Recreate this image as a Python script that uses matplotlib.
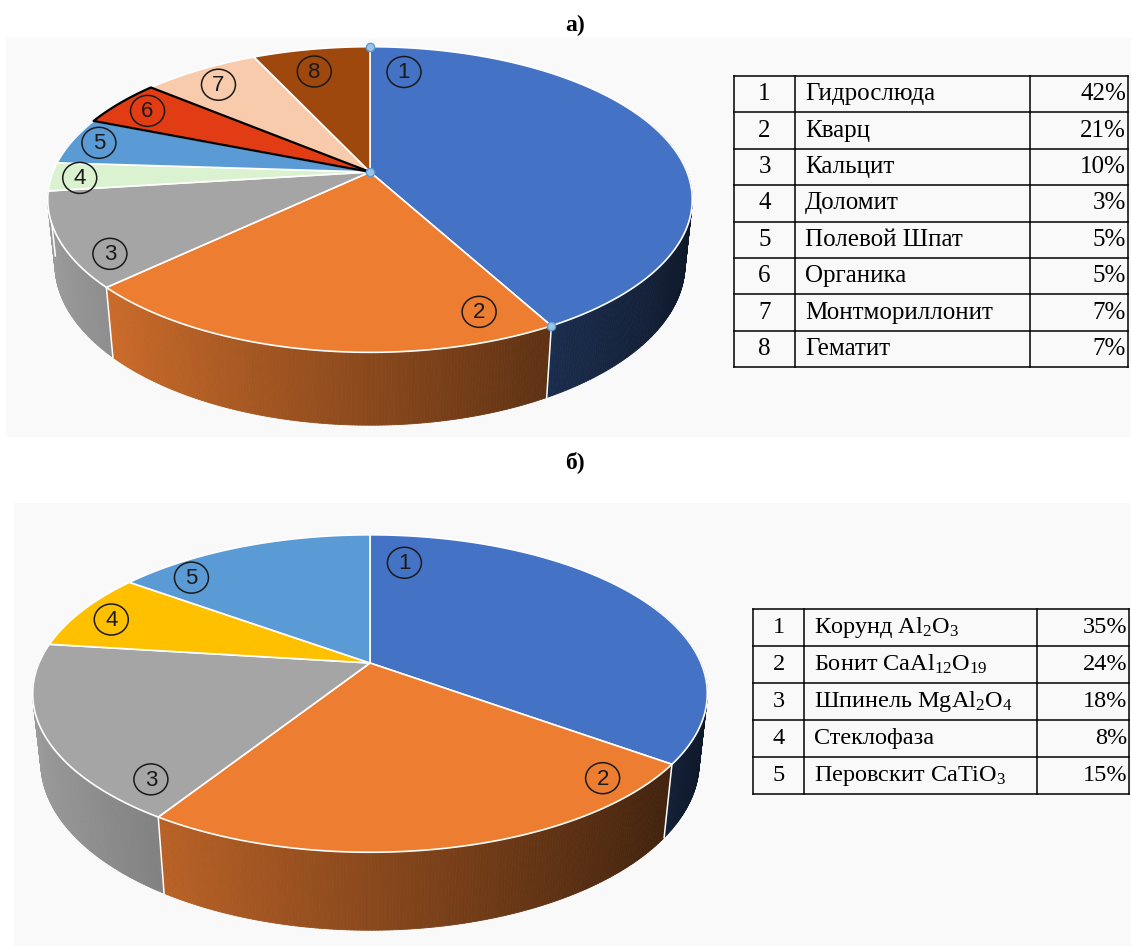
"""Two 3D-style pie charts with legend tables (phase composition)."""
import numpy as np
import matplotlib
matplotlib.use("Agg")
import matplotlib.pyplot as plt
from matplotlib.colors import to_rgb
from matplotlib.patches import Polygon, Rectangle, Ellipse
from matplotlib.collections import PolyCollection

plt.rcParams['mathtext.fontset'] = 'custom'
plt.rcParams['mathtext.rm'] = 'Liberation Serif'
plt.rcParams['mathtext.it'] = 'Liberation Serif:italic'

# --- data -------------------------------------------------------------
names_a = ["Гидрослюда", "Кварц", "Кальцит", "Доломит", "Полевой Шпат",
           "Органика", "Монтмориллонит", "Гематит"]
values_a = [42, 21, 10, 3, 5, 5, 7, 7]
colors_a = ["#4472C4", "#ED7D31", "#A5A5A5", "#DAF2D0", "#5B9BD5",
            "#E23C14", "#F8CBAD", "#9E480E"]

names_b = ["Корунд Al$_2$O$_3$", "Бонит CaAl$_{12}$O$_{19}$",
           "Шпинель MgAl$_2$O$_4$", "Стеклофаза", "Перовскит CaTiO$_3$"]
values_b = [35, 24, 18, 8, 15]
colors_b = ["#4472C4", "#ED7D31", "#A5A5A5", "#FFC000", "#5B9BD5"]

# label placement on the pie plane: (angle clockwise from top, radius)
labels_at_a = [(9, 0.78), (160, 0.86), (236, 0.90), (267.5, 0.91),
               (283, 0.91), (300.5, 0.88), (321, 0.85), (345.5, 0.80)]
labels_at_b = [(9, 0.76), (137, 0.90), (221, 0.88), (290, 0.88), (316, 0.87)]


def make_proj(cx, cy, s, tilt, dist):
    st, ct = np.sin(np.radians(tilt)), np.cos(np.radians(tilt))

    def proj(X, Y, Z=0.0):
        vert = Y * st - Z * ct
        depth = dist - Y * ct - Z * st
        k = dist / depth
        return cx + s * X * k, cy + s * vert * k
    return proj


def draw_pie(ax, values, colors, proj, h, label_at, outline=None, handles=False):
    total = float(sum(values))
    edges = np.concatenate([[0], np.cumsum(values)]) / total * 360.0

    # side wall, shaded as light comes from the left
    quads, cols, keys = [], [], []
    for i, c in enumerate(colors):
        base = np.array(to_rgb(c))
        a0, a1 = edges[i], edges[i + 1]
        n = max(2, int((a1 - a0) / 0.5) + 1)
        th = np.radians(np.linspace(a0, a1, n))
        for t1, t2 in zip(th[:-1], th[1:]):
            tm = 0.5 * (t1 + t2)
            ym = -np.cos(tm)
            if ym < -0.4:
                continue
            p = [proj(np.sin(t1), -np.cos(t1)), proj(np.sin(t2), -np.cos(t2)),
                 proj(np.sin(t2), -np.cos(t2), -h), proj(np.sin(t1), -np.cos(t1), -h)]
            f = 0.58 - 0.38 * np.sin(tm)
            quads.append(p)
            cols.append(np.clip(base * f, 0, 1))
            keys.append(ym)
    order = np.argsort(keys)
    quads = [quads[k] for k in order]
    cols = [cols[k] for k in order]
    ax.add_collection(PolyCollection(quads, facecolors=cols, edgecolors=cols,
                                     linewidths=0.6, zorder=2))
    for b in edges[:-1]:
        t = np.radians(b)
        if -np.cos(t) > 0.05:
            x0, y0 = proj(np.sin(t), -np.cos(t))
            x1, y1 = proj(np.sin(t), -np.cos(t), -h)
            ax.plot([x0, x1], [y0, y1], color="white", lw=1.1, zorder=3)

    # top surface
    apex = proj(0.0, 0.0)
    for i, c in enumerate(colors):
        a0, a1 = edges[i], edges[i + 1]
        th = np.radians(np.linspace(a0, a1, max(2, int(a1 - a0) + 2)))
        pts = [apex] + [proj(np.sin(t), -np.cos(t)) for t in th]
        lw, ec, z = 1.2, "white", 4
        if outline == i:
            lw, ec, z = 1.6, "black", 5
        ax.add_patch(Polygon(pts, closed=True, fc=c, ec=ec, lw=lw,
                             joinstyle="round", zorder=z))

    # circled numbers
    for i, (ang, r) in enumerate(label_at):
        t = np.radians(ang)
        x, y = proj(r * np.sin(t), -r * np.cos(t))
        ax.add_patch(Ellipse((x, y), 34, 31, fc="none", ec="#1a1a1a", lw=1.1, zorder=6))
        ax.text(x, y + 1, str(i + 1), ha="center", va="center", fontsize=16,
                family="Liberation Sans", color="#1a1a1a", zorder=7)

    if handles:
        t = np.radians(edges[1])
        for pt in [proj(0, -1), apex, proj(np.sin(t), -np.cos(t))]:
            ax.plot(*pt, marker="o", ms=6, mfc="#9DC3E6", mec="#5B9BD5",
                    mew=1, zorder=8)


def draw_table(ax, xs, y_top, row_h, names, values, fs):
    n = len(names)
    for k in range(n + 1):
        y = y_top + k * row_h
        ax.plot([xs[0], xs[-1]], [y, y], color="black", lw=1.1)
    for x in xs:
        ax.plot([x, x], [y_top, y_top + n * row_h], color="black", lw=1.1)
    for k, (nm, v) in enumerate(zip(names, values)):
        yc = y_top + (k + 0.5) * row_h
        ax.text(0.5 * (xs[0] + xs[1]), yc, str(k + 1), ha="center", va="center",
                fontsize=fs, family="Liberation Serif")
        ax.text(xs[1] + 10, yc, nm, ha="left", va="center",
                fontsize=fs, family="Liberation Serif")
        ax.text(xs[3] - 2, yc, f"{v}%", ha="right", va="center",
                fontsize=fs, family="Liberation Serif")


fig = plt.figure(figsize=(11.31, 9.46), dpi=100)
ax = fig.add_axes([0, 0, 1, 1])
ax.set_xlim(0, 1131)
ax.set_ylim(946, 0)
ax.axis("off")

# light panels behind each chart
ax.add_patch(Rectangle((6, 38), 1125, 399, fc="#F9F9F9", ec="none", zorder=0))
ax.add_patch(Rectangle((14, 503), 1117, 443, fc="#F9F9F9", ec="none", zorder=0))

ax.text(575, 25, "а)", ha="center", va="center", fontsize=17,
        fontweight="bold", family="Liberation Serif")
ax.text(575, 462, "б)", ha="center", va="center", fontsize=17,
        fontweight="bold", family="Liberation Serif")

proj_a = make_proj(370, 172, 317, 27.8, 4.91)
draw_pie(ax, values_a, colors_a, proj_a, 0.233, labels_at_a, outline=5, handles=True)

proj_b = make_proj(370, 663, 331, 27.5, 4.61)
draw_pie(ax, values_b, colors_b, proj_b, 0.236, labels_at_b)

draw_table(ax, [734, 795, 1030, 1128], 76, 36.4, names_a, values_a, 18)
draw_table(ax, [753, 804, 1037, 1129], 609, 37.0, names_b, values_b, 17.5)

plt.savefig("out.png", dpi=100)
